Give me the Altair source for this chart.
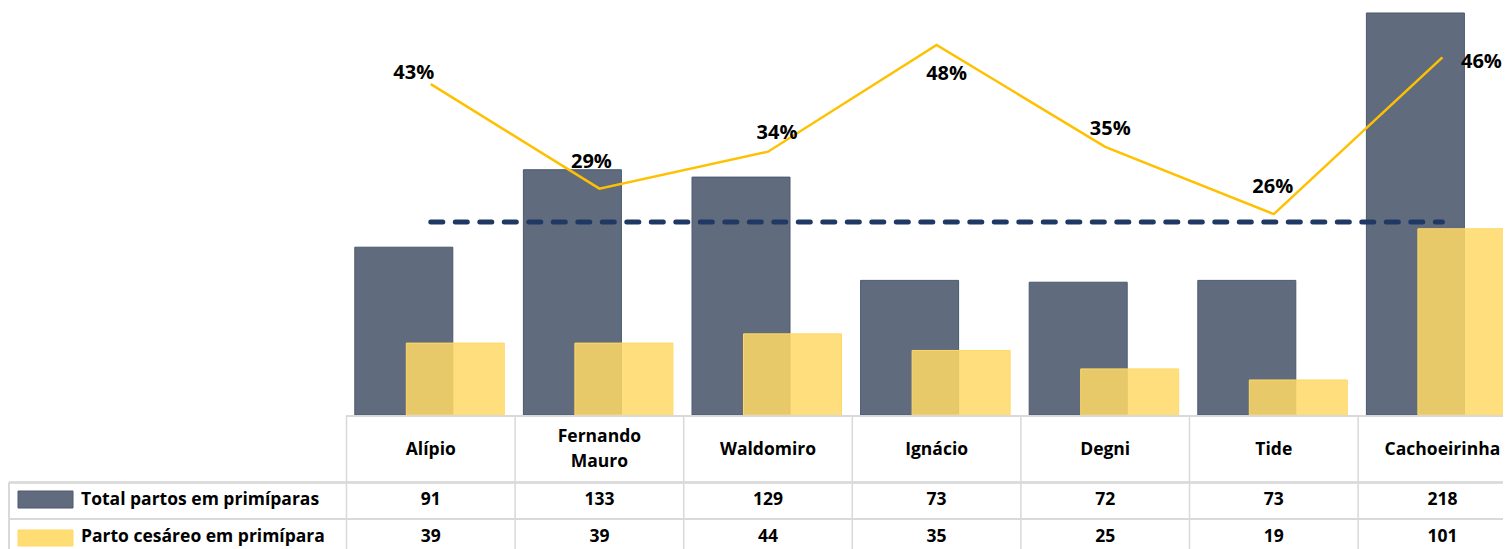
import altair as alt
import pandas as pd

categories = ["Alípio", "Fernando Mauro", "Waldomiro", "Ignácio", "Degni", "Tide", "Cachoeirinha"]
header_labels = ["Alípio", "Fernando\nMauro", "Waldomiro", "Ignácio", "Degni", "Tide", "Cachoeirinha"]
total_partos = [91, 133, 129, 73, 72, 73, 218]
parto_cesareo = [39, 39, 44, 35, 25, 19, 101]
reference_pct = 0.25
series_names = ["Total partos em primíparas", "Parto cesáreo em primípara"]

# label offsets (style only)
label_offsets = [(-17, -11), (-8, -27), (9, -19), (10, 29), (5, -18), (-1, -27), (39, 5)]

df = pd.DataFrame({
    "cat": categories,
    "header": header_labels,
    "total": total_partos,
    "ces": parto_cesareo,
})
df["pct"] = df["ces"] / df["total"]
df["ref"] = reference_pct
df["multiline"] = df["header"].str.contains("\n")

FONT = "Open Sans"
STEP = 168.6
X0 = 338.5
xscale = alt.Scale(domain=categories, range=[X0, X0 + 7 * STEP], paddingInner=0, paddingOuter=0)
X = alt.X("cat:N", scale=xscale, axis=None, sort=categories)
bar_scale = alt.Scale(domain=[0, 220], range=[407, 1.3])
pct_scale = alt.Scale(domain=[0, 0.5], range=[407, 21])

base = alt.Chart(df)

dark = base.mark_bar(width=98, xOffset=-27, color="#606C7E", stroke="#4A5970", strokeWidth=1).encode(
    x=X, y=alt.Y("total:Q", scale=bar_scale, axis=None))
yellow = base.mark_bar(width=98, xOffset=24.5, color="#FFD966", fillOpacity=0.85, stroke="#FFD966", strokeWidth=1).encode(
    x=X, y=alt.Y("ces:Q", scale=bar_scale, axis=None))
dashed = base.mark_line(color="#1F3864", strokeWidth=5, strokeDash=[12, 12.5], strokeCap="round").encode(
    x=X, y=alt.Y("ref:Q", scale=pct_scale, axis=None))
line = base.mark_line(color="#FFC000", strokeWidth=2.5).encode(
    x=X, y=alt.Y("pct:Q", scale=pct_scale, axis=None))

pct_labels = []
for c, (dx, dy) in zip(categories, label_offsets):
    pct_labels.append(
        base.transform_filter(alt.datum.cat == c).mark_text(
            font=FONT, fontWeight="bold", fontSize=20, color="#000000", dx=dx, dy=dy, baseline="middle"
        ).encode(x=X, y=alt.Y("pct:Q", scale=pct_scale, axis=None), text=alt.Text("pct:Q", format=".0%"))
    )

GRID = "#D9D9D9"
vlines = base.mark_rule(color=GRID, strokeWidth=1.5).encode(
    x=alt.X("cat:N", scale=xscale, axis=None, bandPosition=0), y=alt.value(408), y2=alt.value(545))
hline0 = base.mark_rule(color=GRID, strokeWidth=1.5).encode(x=alt.value(338), x2=alt.value(1495), y=alt.value(408))
hline1 = base.mark_rule(color=GRID, strokeWidth=1.5).encode(x=alt.value(1), x2=alt.value(1495), y=alt.value(474.5))
hline2 = base.mark_rule(color=GRID, strokeWidth=1.5).encode(x=alt.value(1), x2=alt.value(1495), y=alt.value(511))
vleft = base.mark_rule(color=GRID, strokeWidth=1.5).encode(x=alt.value(1), y=alt.value(474.5), y2=alt.value(545))

TXT = dict(font=FONT, fontWeight="bold", fontSize=17.5, color="#000000", baseline="middle")
header_single = base.transform_filter(~alt.datum.multiline).mark_text(**TXT).encode(
    x=X, y=alt.value(442), text="header:N")
header_multi = base.transform_filter(alt.datum.multiline).mark_text(lineBreak="\n", lineHeight=25, **TXT).encode(
    x=X, y=alt.value(429), text="header:N")
row1 = base.mark_text(**TXT).encode(x=X, y=alt.value(492), text="total:Q")
row2 = base.mark_text(**TXT).encode(x=X, y=alt.value(529), text="ces:Q")

leg_df = pd.DataFrame({"name": series_names})
leg1 = alt.Chart(leg_df).transform_filter(alt.datum.name == series_names[0]).mark_text(
    align="left", **TXT).encode(x=alt.value(73), y=alt.value(492), text="name:N")
leg2 = alt.Chart(leg_df).transform_filter(alt.datum.name == series_names[1]).mark_text(
    align="left", **TXT).encode(x=alt.value(73), y=alt.value(529), text="name:N")
sw1 = alt.Chart(leg_df).transform_filter(alt.datum.name == series_names[0]).mark_rect(
    color="#606C7E", stroke="#4A5970", strokeWidth=1).encode(
    x=alt.value(10), x2=alt.value(65), y=alt.value(483), y2=alt.value(500))
sw2 = alt.Chart(leg_df).transform_filter(alt.datum.name == series_names[1]).mark_rect(
    color="#FFD966", fillOpacity=0.9, stroke="#FFD966", strokeWidth=1).encode(
    x=alt.value(10), x2=alt.value(65), y=alt.value(522), y2=alt.value(538))

chart = alt.layer(
    dark, yellow, dashed, line, *pct_labels,
    vlines, hline0, hline1, hline2, vleft,
    header_single, header_multi, row1, row2, leg1, leg2, sw1, sw2,
).resolve_scale(y="independent").properties(
    width=1495, height=541, autosize=alt.AutoSizeParams(type="none"), padding=0, background="#FFFFFF"
).configure_view(strokeWidth=0, stroke=None)

chart.save("out.html", embed_options={"renderer": "svg", "actions": False})
